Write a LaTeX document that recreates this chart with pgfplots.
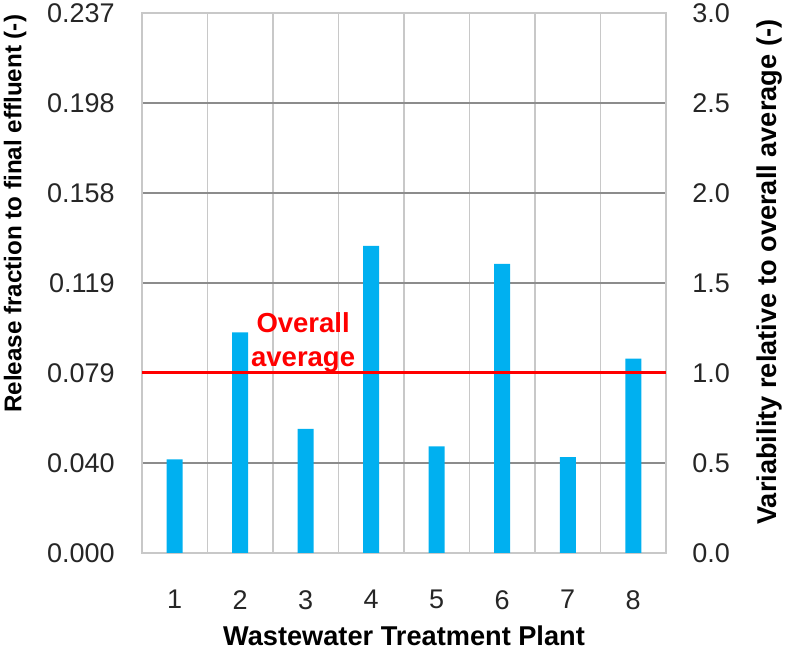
\documentclass[border=0pt]{standalone}
\usepackage{pgfplots}
\pgfplotsset{compat=1.18}
\usepackage{fontspec}
\setmainfont{Liberation Sans}
\definecolor{barblue}{HTML}{00B0F0}
\definecolor{hgrid}{HTML}{8C8C8C}
\definecolor{vgrid}{HTML}{C8C8C8}
\begin{document}
\begin{tikzpicture}
\path[use as bounding box] (-71pt,-52.5pt) rectangle (323pt,276.5pt);
\begin{axis}[
  name=main,
  scale only axis,
  width=262pt, height=270pt,
  at={(0,0)}, anchor=south west,
  xmin=0.5, xmax=8.5,
  ymin=0, ymax=3,
  xtick={1,...,8},
  minor xtick={1.5,2.5,...,7.5},
  ytick={0,0.5,...,3},
  yticklabels={0.000,0.040,0.079,0.119,0.158,0.198,0.237},
  major tick length=0pt, minor tick length=0pt,
  xmajorgrids=false, xminorgrids=true, ymajorgrids=true,
  minor x grid style={vgrid, line width=0.6pt},
  major y grid style={hgrid, line width=0.6pt},
  axis line style={vgrid, line width=0.6pt},
  /pgf/number format/assume math mode=true,
  tick label style={font=\fontsize{13.5}{16}\selectfont, text=black!85},
  yticklabel style={anchor=east, inner sep=0pt, xshift=-13.5pt},
  xticklabel style={anchor=north, inner sep=0pt, yshift=-18.5pt},
  label style={font=\bfseries\fontsize{13.6}{16}\selectfont, text=black},
  xlabel={Wastewater Treatment Plant},
  xlabel style={at={(axis description cs:0.5,0)}, anchor=center, yshift=-41.5pt},
  ylabel={Release fraction to final effluent (-)},
  ylabel style={at={(axis description cs:-0.242,0.628)}, anchor=center,
    font=\bfseries\fontsize{12.1}{14}\selectfont},
]
\addplot[ybar, bar width=8pt, bar shift=0pt, fill=barblue, draw=none]
  coordinates {(1,0.52) (2,1.226) (3,0.689) (4,1.706) (5,0.593) (6,1.606) (7,0.532) (8,1.08)};
\addplot[red, line width=1.5pt, mark=none] coordinates {(0.5,1) (8.5,1)};
\node[red, font=\bfseries\fontsize{13.75}{17}\selectfont, align=center]
  at (axis cs:2.96,1.17) {Overall\\average};
\end{axis}
\begin{axis}[
  scale only axis,
  width=262pt, height=270pt,
  at={(0,0)}, anchor=south west,
  xmin=0.5, xmax=8.5,
  ymin=0, ymax=3,
  axis x line=none,
  axis y line*=right,
  axis line style={draw=none},
  ytick={0,0.5,...,3},
  major tick length=0pt,
  /pgf/number format/assume math mode=true,
  /pgf/number format/fixed, /pgf/number format/fixed zerofill,
  /pgf/number format/precision=1,
  tick label style={font=\fontsize{13.5}{16}\selectfont, text=black!85},
  yticklabel style={anchor=west, inner sep=0pt, xshift=13pt},
  ylabel={Variability relative to overall average (-)},
  label style={font=\bfseries\fontsize{13.6}{16}\selectfont, text=black},
  ylabel style={at={(axis description cs:1.198,0.52)}, anchor=center},
]
\addplot[draw=none, mark=none] coordinates {(1,0) (8,0)};
\end{axis}
\end{tikzpicture}
\end{document}
